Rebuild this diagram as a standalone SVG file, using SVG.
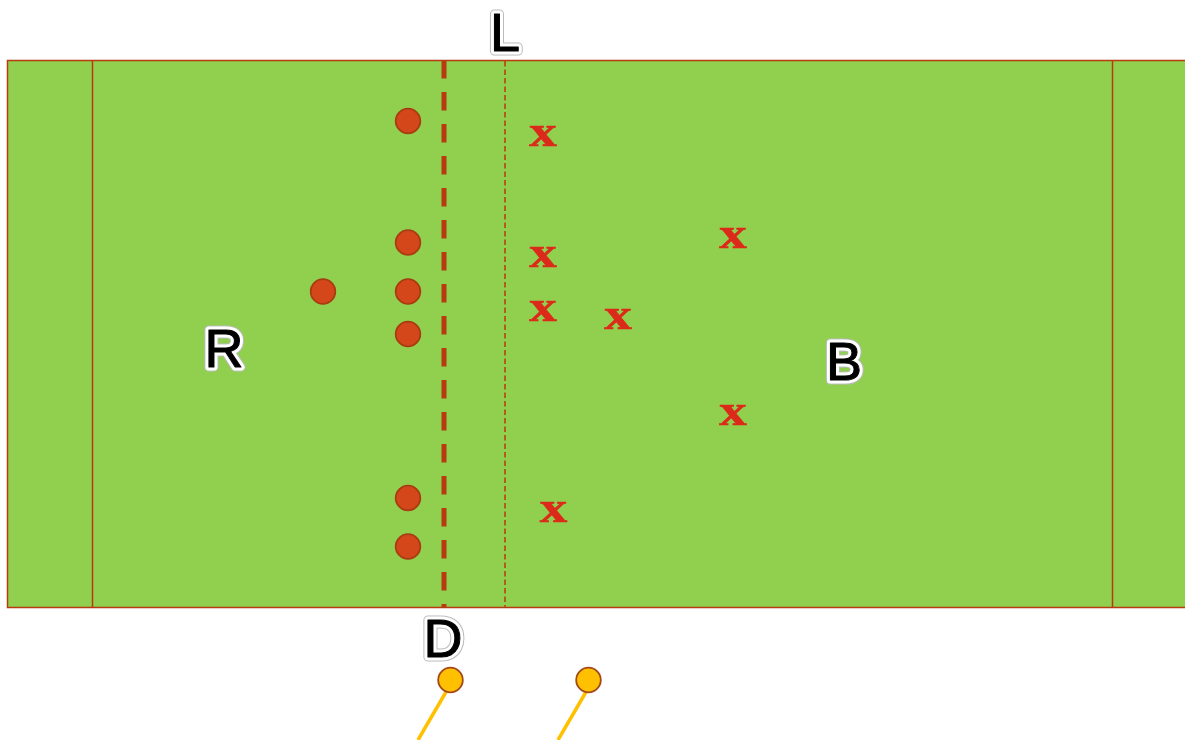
<svg xmlns="http://www.w3.org/2000/svg" width="1185" height="740" viewBox="0 0 1185 740">
<style>
.line{stroke:#b83a10;fill:none}
.o{fill:#d4471b;stroke:#a83c10;stroke-width:1.800}
.y{fill:#ffc000;stroke:#a5481a;stroke-width:1.800}
.t{stroke:#ffc000;stroke-width:3.500;fill:none}
.x{font-family:"Liberation Serif",serif;font-weight:bold;font-size:44px;fill:#dc2a1a;stroke:#dc2a1a;stroke-width:.6;text-anchor:middle}
.l{font-family:"Liberation Sans",Arial,sans-serif;font-size:54px;text-anchor:middle;stroke-linejoin:round}
.h{fill:#000;stroke:#bbb;stroke-width:9}
.w{fill:#000;stroke:#fff;stroke-width:7}
.k{fill:#000;stroke:#000;stroke-width:1}
</style>
<g id="field">
<rect x="7.500" y="60.500" width="1190" height="547" fill="#91d04f" stroke="#b83a10" stroke-width="1.500"/>
<path class="line" stroke-width="1.500" d="M92.500 60.500V607.500M1112.500 60.500V607.500"/>
<path class="line" stroke-width="5" stroke-dasharray="18.500 13.500" d="M444 60V607"/>
<path class="line" stroke-width="1.500" stroke-dasharray="5.500 3" d="M505 61V607"/>
</g>
<g id="circles">
<circle class="o" cx="408" cy="121" r="12.300"/>
<circle class="o" cx="408" cy="242.500" r="12.300"/>
<circle class="o" cx="408" cy="291.500" r="12.300"/>
<circle class="o" cx="323" cy="291.500" r="12.300"/>
<circle class="o" cx="408" cy="334" r="12.300"/>
<circle class="o" cx="408" cy="498" r="12.300"/>
<circle class="o" cx="408" cy="546.500" r="12.300"/>
</g>
<g id="crosses">
<text class="x" transform="translate(543 145.500) scale(1.250 1)">x</text>
<text class="x" transform="translate(543 266.500) scale(1.250 1)">x</text>
<text class="x" transform="translate(543 320.500) scale(1.250 1)">x</text>
<text class="x" transform="translate(618 328.500) scale(1.250 1)">x</text>
<text class="x" transform="translate(733 247.500) scale(1.250 1)">x</text>
<text class="x" transform="translate(733 424.500) scale(1.250 1)">x</text>
<text class="x" transform="translate(553.500 521.500) scale(1.250 1)">x</text>
</g>
<g id="label-L"><text class="l h" x="505" y="50.500">L</text><text class="l w" x="505" y="50.500">L</text><text class="l k" x="505" y="50.500">L</text></g>
<g id="label-R"><text class="l h" x="224" y="366.500">R</text><text class="l w" x="224" y="366.500">R</text><text class="l k" x="224" y="366.500">R</text></g>
<g id="label-B"><text class="l h" x="844" y="379.500">B</text><text class="l w" x="844" y="379.500">B</text><text class="l k" x="844" y="379.500">B</text></g>
<g id="label-D"><text class="l h" x="443" y="656.500">D</text><text class="l w" x="443" y="656.500">D</text><text class="l k" x="443" y="656.500">D</text></g>
<g id="connectors">
<path class="t" d="M446 692L418 740M586 692L558 740"/>
</g>
<g id="marker-1"><circle class="y" cx="450.500" cy="680" r="12.300"/></g>
<g id="marker-2"><circle class="y" cx="588.500" cy="680" r="12.300"/></g>
</svg>
